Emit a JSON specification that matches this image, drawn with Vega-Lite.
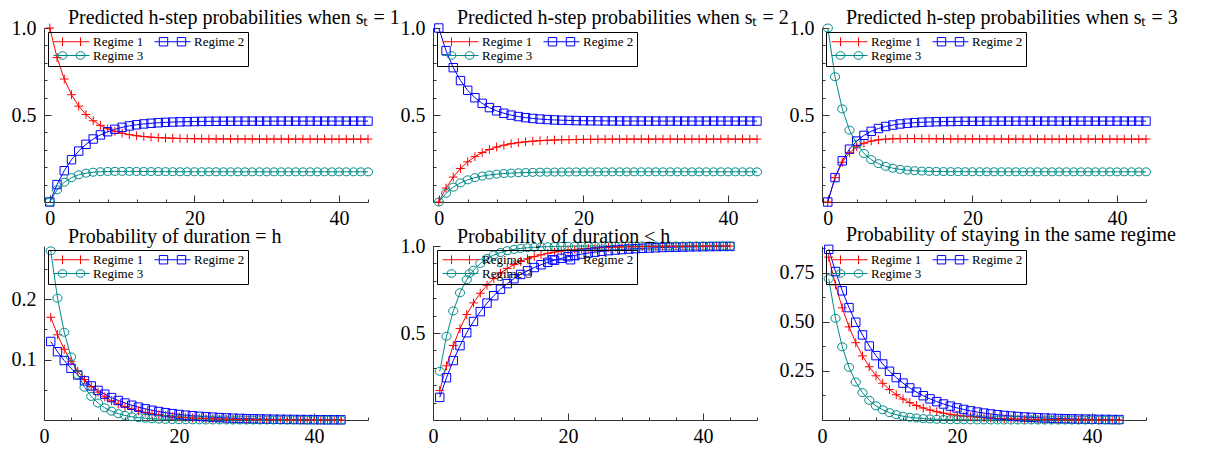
{
  "$schema": "https://vega.github.io/schema/vega-lite/v6.json",
  "padding": {"left": 11, "top": 8, "right": 0, "bottom": 0},
  "background": "white",
  "config": {
    "view": {"stroke": null},
    "font": "Liberation Serif",
    "axis": {"labelFont": "Liberation Serif", "labelFontSize": 20, "labelColor": "#000", "domainColor": "#333", "tickColor": "#333", "domainWidth": 1, "tickWidth": 1, "grid": false, "labelFlush": false},
    "title": {"font": "Liberation Serif", "fontSize": 20, "fontWeight": "normal", "color": "#000", "anchor": "start", "frame": "group", "dx": 24, "offset": -10},
    "legend": {"orient": "top-left", "direction": "horizontal", "offset": 4, "columns": 2, "padding": 3, "rowPadding": 0, "columnPadding": 8, "strokeColor": "#000", "labelFont": "Liberation Serif", "labelFontSize": 13, "labelColor": "#000", "symbolSize": 64, "symbolStrokeWidth": 1, "symbolFillColor": "transparent", "labelOffset": 29},
    "line": {"strokeWidth": 1},
    "point": {"filled": false, "strokeWidth": 1, "size": 64, "opacity": 1}
  },
  "datasets": {
    "s1": [
      {"h":0,"Regime 1":1,"Regime 2":0,"Regime 3":0},{"h":1,"Regime 1":0.83,"Regime 2":0.1,"Regime 3":0.07},{"h":2,"Regime 1":0.7067,"Regime 2":0.1798,"Regime 3":0.1135},{"h":3,"Regime 1":0.6168,"Regime 2":0.243,"Regime 3":0.1402},{"h":4,"Regime 1":0.551,"Regime 2":0.2927,"Regime 3":0.1563},{"h":5,"Regime 1":0.5027,"Regime 2":0.3316,"Regime 3":0.1657},{"h":6,"Regime 1":0.4669,"Regime 2":0.362,"Regime 3":0.1711},{"h":7,"Regime 1":0.4405,"Regime 2":0.3856,"Regime 3":0.174},{"h":8,"Regime 1":0.4208,"Regime 2":0.4039,"Regime 3":0.1754},{"h":9,"Regime 1":0.4061,"Regime 2":0.418,"Regime 3":0.1759},{"h":10,"Regime 1":0.3951,"Regime 2":0.4289,"Regime 3":0.176},{"h":11,"Regime 1":0.3869,"Regime 2":0.4373,"Regime 3":0.1758},{"h":12,"Regime 1":0.3807,"Regime 2":0.4437,"Regime 3":0.1755},{"h":13,"Regime 1":0.3761,"Regime 2":0.4487,"Regime 3":0.1752},{"h":14,"Regime 1":0.3726,"Regime 2":0.4525,"Regime 3":0.1749},{"h":15,"Regime 1":0.3699,"Regime 2":0.4554,"Regime 3":0.1747},{"h":16,"Regime 1":0.368,"Regime 2":0.4577,"Regime 3":0.1744},{"h":17,"Regime 1":0.3665,"Regime 2":0.4594,"Regime 3":0.1741},{"h":18,"Regime 1":0.3653,"Regime 2":0.4607,"Regime 3":0.174},{"h":19,"Regime 1":0.3644,"Regime 2":0.4617,"Regime 3":0.1738},{"h":20,"Regime 1":0.3638,"Regime 2":0.4625,"Regime 3":0.1737},{"h":21,"Regime 1":0.3633,"Regime 2":0.4631,"Regime 3":0.1737},{"h":22,"Regime 1":0.3629,"Regime 2":0.4635,"Regime 3":0.1736},{"h":23,"Regime 1":0.3626,"Regime 2":0.4639,"Regime 3":0.1736},{"h":24,"Regime 1":0.3624,"Regime 2":0.4641,"Regime 3":0.1735},{"h":25,"Regime 1":0.3622,"Regime 2":0.4643,"Regime 3":0.1735},{"h":26,"Regime 1":0.3621,"Regime 2":0.4645,"Regime 3":0.1735},{"h":27,"Regime 1":0.3619,"Regime 2":0.4646,"Regime 3":0.1735},{"h":28,"Regime 1":0.3619,"Regime 2":0.4647,"Regime 3":0.1734},{"h":29,"Regime 1":0.3618,"Regime 2":0.4647,"Regime 3":0.1734},{"h":30,"Regime 1":0.3618,"Regime 2":0.4648,"Regime 3":0.1734},{"h":31,"Regime 1":0.3617,"Regime 2":0.4648,"Regime 3":0.1734},{"h":32,"Regime 1":0.3617,"Regime 2":0.4649,"Regime 3":0.1734},{"h":33,"Regime 1":0.3617,"Regime 2":0.4649,"Regime 3":0.1734},{"h":34,"Regime 1":0.3616,"Regime 2":0.4649,"Regime 3":0.1734},{"h":35,"Regime 1":0.3616,"Regime 2":0.4649,"Regime 3":0.1734},{"h":36,"Regime 1":0.3616,"Regime 2":0.4649,"Regime 3":0.1734},{"h":37,"Regime 1":0.3616,"Regime 2":0.4649,"Regime 3":0.1734},{"h":38,"Regime 1":0.3616,"Regime 2":0.4649,"Regime 3":0.1734},{"h":39,"Regime 1":0.3616,"Regime 2":0.4649,"Regime 3":0.1734},{"h":40,"Regime 1":0.3616,"Regime 2":0.4649,"Regime 3":0.1734},{"h":41,"Regime 1":0.3616,"Regime 2":0.4649,"Regime 3":0.1734},{"h":42,"Regime 1":0.3616,"Regime 2":0.4649,"Regime 3":0.1734},{"h":43,"Regime 1":0.3616,"Regime 2":0.4649,"Regime 3":0.1734},{"h":44,"Regime 1":0.3616,"Regime 2":0.4649,"Regime 3":0.1734}
    ],
    "s2": [
      {"h":0,"Regime 1":0,"Regime 2":1,"Regime 3":0},{"h":1,"Regime 1":0.08,"Regime 2":0.87,"Regime 3":0.05},{"h":2,"Regime 1":0.143,"Regime 2":0.7719,"Regime 3":0.0851},{"h":3,"Regime 1":0.1924,"Regime 2":0.6978,"Regime 3":0.1099},{"h":4,"Regime 1":0.2309,"Regime 2":0.6417,"Regime 3":0.1275},{"h":5,"Regime 1":0.2608,"Regime 2":0.5992,"Regime 3":0.14},{"h":6,"Regime 1":0.284,"Regime 2":0.567,"Regime 3":0.149},{"h":7,"Regime 1":0.3019,"Regime 2":0.5425,"Regime 3":0.1555},{"h":8,"Regime 1":0.3158,"Regime 2":0.524,"Regime 3":0.1602},{"h":9,"Regime 1":0.3265,"Regime 2":0.5099,"Regime 3":0.1637},{"h":10,"Regime 1":0.3347,"Regime 2":0.4992,"Regime 3":0.1662},{"h":11,"Regime 1":0.341,"Regime 2":0.491,"Regime 3":0.168},{"h":12,"Regime 1":0.3458,"Regime 2":0.4848,"Regime 3":0.1694},{"h":13,"Regime 1":0.3495,"Regime 2":0.4801,"Regime 3":0.1704},{"h":14,"Regime 1":0.3524,"Regime 2":0.4765,"Regime 3":0.1712},{"h":15,"Regime 1":0.3546,"Regime 2":0.4737,"Regime 3":0.1717},{"h":16,"Regime 1":0.3562,"Regime 2":0.4716,"Regime 3":0.1721},{"h":17,"Regime 1":0.3575,"Regime 2":0.4701,"Regime 3":0.1724},{"h":18,"Regime 1":0.3585,"Regime 2":0.4688,"Regime 3":0.1727},{"h":19,"Regime 1":0.3592,"Regime 2":0.4679,"Regime 3":0.1729},{"h":20,"Regime 1":0.3598,"Regime 2":0.4672,"Regime 3":0.173},{"h":21,"Regime 1":0.3602,"Regime 2":0.4667,"Regime 3":0.1731},{"h":22,"Regime 1":0.3606,"Regime 2":0.4663,"Regime 3":0.1732},{"h":23,"Regime 1":0.3608,"Regime 2":0.466,"Regime 3":0.1732},{"h":24,"Regime 1":0.361,"Regime 2":0.4657,"Regime 3":0.1733},{"h":25,"Regime 1":0.3612,"Regime 2":0.4655,"Regime 3":0.1733},{"h":26,"Regime 1":0.3613,"Regime 2":0.4654,"Regime 3":0.1733},{"h":27,"Regime 1":0.3613,"Regime 2":0.4653,"Regime 3":0.1734},{"h":28,"Regime 1":0.3614,"Regime 2":0.4652,"Regime 3":0.1734},{"h":29,"Regime 1":0.3615,"Regime 2":0.4651,"Regime 3":0.1734},{"h":30,"Regime 1":0.3615,"Regime 2":0.4651,"Regime 3":0.1734},{"h":31,"Regime 1":0.3616,"Regime 2":0.465,"Regime 3":0.1734},{"h":32,"Regime 1":0.3616,"Regime 2":0.465,"Regime 3":0.1734},{"h":33,"Regime 1":0.3616,"Regime 2":0.465,"Regime 3":0.1734},{"h":34,"Regime 1":0.3616,"Regime 2":0.465,"Regime 3":0.1734},{"h":35,"Regime 1":0.3616,"Regime 2":0.465,"Regime 3":0.1734},{"h":36,"Regime 1":0.3616,"Regime 2":0.465,"Regime 3":0.1734},{"h":37,"Regime 1":0.3616,"Regime 2":0.465,"Regime 3":0.1734},{"h":38,"Regime 1":0.3616,"Regime 2":0.465,"Regime 3":0.1734},{"h":39,"Regime 1":0.3616,"Regime 2":0.465,"Regime 3":0.1734},{"h":40,"Regime 1":0.3616,"Regime 2":0.465,"Regime 3":0.1734},{"h":41,"Regime 1":0.3616,"Regime 2":0.465,"Regime 3":0.1734},{"h":42,"Regime 1":0.3616,"Regime 2":0.465,"Regime 3":0.1734},{"h":43,"Regime 1":0.3616,"Regime 2":0.465,"Regime 3":0.1734},{"h":44,"Regime 1":0.3616,"Regime 2":0.465,"Regime 3":0.1734}
    ],
    "s3": [
      {"h":0,"Regime 1":0,"Regime 2":0,"Regime 3":1},{"h":1,"Regime 1":0.14,"Regime 2":0.14,"Regime 3":0.72},{"h":2,"Regime 1":0.2282,"Regime 2":0.2366,"Regime 3":0.5352},{"h":3,"Regime 1":0.2833,"Regime 2":0.3036,"Regime 3":0.4132},{"h":4,"Regime 1":0.3172,"Regime 2":0.3503,"Regime 3":0.3325},{"h":5,"Regime 1":0.3379,"Regime 2":0.383,"Regime 3":0.2791},{"h":6,"Regime 1":0.3502,"Regime 2":0.4061,"Regime 3":0.2438},{"h":7,"Regime 1":0.3572,"Regime 2":0.4224,"Regime 3":0.2203},{"h":8,"Regime 1":0.3612,"Regime 2":0.4341,"Regime 3":0.2048},{"h":9,"Regime 1":0.3632,"Regime 2":0.4424,"Regime 3":0.1944},{"h":10,"Regime 1":0.364,"Regime 2":0.4485,"Regime 3":0.1875},{"h":11,"Regime 1":0.3643,"Regime 2":0.4528,"Regime 3":0.1829},{"h":12,"Regime 1":0.3642,"Regime 2":0.456,"Regime 3":0.1798},{"h":13,"Regime 1":0.3639,"Regime 2":0.4583,"Regime 3":0.1778},{"h":14,"Regime 1":0.3636,"Regime 2":0.46,"Regime 3":0.1764},{"h":15,"Regime 1":0.3633,"Regime 2":0.4613,"Regime 3":0.1755},{"h":16,"Regime 1":0.363,"Regime 2":0.4622,"Regime 3":0.1748},{"h":17,"Regime 1":0.3627,"Regime 2":0.4628,"Regime 3":0.1745},{"h":18,"Regime 1":0.3624,"Regime 2":0.4633,"Regime 3":0.1742},{"h":19,"Regime 1":0.3622,"Regime 2":0.4637,"Regime 3":0.174},{"h":20,"Regime 1":0.3621,"Regime 2":0.464,"Regime 3":0.1739},{"h":21,"Regime 1":0.362,"Regime 2":0.4642,"Regime 3":0.1738},{"h":22,"Regime 1":0.3619,"Regime 2":0.4644,"Regime 3":0.1737},{"h":23,"Regime 1":0.3618,"Regime 2":0.4645,"Regime 3":0.1736},{"h":24,"Regime 1":0.3618,"Regime 2":0.4646,"Regime 3":0.1736},{"h":25,"Regime 1":0.3617,"Regime 2":0.4647,"Regime 3":0.1735},{"h":26,"Regime 1":0.3617,"Regime 2":0.4648,"Regime 3":0.1735},{"h":27,"Regime 1":0.3617,"Regime 2":0.4648,"Regime 3":0.1735},{"h":28,"Regime 1":0.3616,"Regime 2":0.4649,"Regime 3":0.1734},{"h":29,"Regime 1":0.3616,"Regime 2":0.4649,"Regime 3":0.1734},{"h":30,"Regime 1":0.3616,"Regime 2":0.4649,"Regime 3":0.1734},{"h":31,"Regime 1":0.3616,"Regime 2":0.4649,"Regime 3":0.1734},{"h":32,"Regime 1":0.3616,"Regime 2":0.4649,"Regime 3":0.1734},{"h":33,"Regime 1":0.3616,"Regime 2":0.4649,"Regime 3":0.1734},{"h":34,"Regime 1":0.3616,"Regime 2":0.4649,"Regime 3":0.1734},{"h":35,"Regime 1":0.3616,"Regime 2":0.4649,"Regime 3":0.1734},{"h":36,"Regime 1":0.3616,"Regime 2":0.4649,"Regime 3":0.1734},{"h":37,"Regime 1":0.3616,"Regime 2":0.4649,"Regime 3":0.1734},{"h":38,"Regime 1":0.3616,"Regime 2":0.4649,"Regime 3":0.1734},{"h":39,"Regime 1":0.3616,"Regime 2":0.4649,"Regime 3":0.1734},{"h":40,"Regime 1":0.3616,"Regime 2":0.4649,"Regime 3":0.1734},{"h":41,"Regime 1":0.3616,"Regime 2":0.4649,"Regime 3":0.1734},{"h":42,"Regime 1":0.3616,"Regime 2":0.4649,"Regime 3":0.1734},{"h":43,"Regime 1":0.3616,"Regime 2":0.4649,"Regime 3":0.1734},{"h":44,"Regime 1":0.3616,"Regime 2":0.4649,"Regime 3":0.1734}
    ],
    "dur": [
      {"h":1,"Regime 1":0.17,"Regime 2":0.13,"Regime 3":0.28},{"h":2,"Regime 1":0.1411,"Regime 2":0.1131,"Regime 3":0.2016},{"h":3,"Regime 1":0.1171,"Regime 2":0.0984,"Regime 3":0.1452},{"h":4,"Regime 1":0.0972,"Regime 2":0.0856,"Regime 3":0.1045},{"h":5,"Regime 1":0.0807,"Regime 2":0.0745,"Regime 3":0.0752},{"h":6,"Regime 1":0.067,"Regime 2":0.0648,"Regime 3":0.0542},{"h":7,"Regime 1":0.0556,"Regime 2":0.0564,"Regime 3":0.039},{"h":8,"Regime 1":0.0461,"Regime 2":0.049,"Regime 3":0.0281},{"h":9,"Regime 1":0.0383,"Regime 2":0.0427,"Regime 3":0.0202},{"h":10,"Regime 1":0.0318,"Regime 2":0.0371,"Regime 3":0.0146},{"h":11,"Regime 1":0.0264,"Regime 2":0.0323,"Regime 3":0.0105},{"h":12,"Regime 1":0.0219,"Regime 2":0.0281,"Regime 3":0.0075},{"h":13,"Regime 1":0.0182,"Regime 2":0.0244,"Regime 3":0.0054},{"h":14,"Regime 1":0.0151,"Regime 2":0.0213,"Regime 3":0.0039},{"h":15,"Regime 1":0.0125,"Regime 2":0.0185,"Regime 3":0.0028},{"h":16,"Regime 1":0.0104,"Regime 2":0.0161,"Regime 3":0.002},{"h":17,"Regime 1":0.0086,"Regime 2":0.014,"Regime 3":0.0015},{"h":18,"Regime 1":0.0072,"Regime 2":0.0122,"Regime 3":0.0011},{"h":19,"Regime 1":0.0059,"Regime 2":0.0106,"Regime 3":0.0008},{"h":20,"Regime 1":0.0049,"Regime 2":0.0092,"Regime 3":0.0005},{"h":21,"Regime 1":0.0041,"Regime 2":0.008,"Regime 3":0.0004},{"h":22,"Regime 1":0.0034,"Regime 2":0.007,"Regime 3":0.0003},{"h":23,"Regime 1":0.0028,"Regime 2":0.0061,"Regime 3":0.0002},{"h":24,"Regime 1":0.0023,"Regime 2":0.0053,"Regime 3":0.0001},{"h":25,"Regime 1":0.0019,"Regime 2":0.0046,"Regime 3":0.0001},{"h":26,"Regime 1":0.0016,"Regime 2":0.004,"Regime 3":0.0001},{"h":27,"Regime 1":0.0013,"Regime 2":0.0035,"Regime 3":0.0001},{"h":28,"Regime 1":0.0011,"Regime 2":0.003,"Regime 3":0},{"h":29,"Regime 1":0.0009,"Regime 2":0.0026,"Regime 3":0},{"h":30,"Regime 1":0.0008,"Regime 2":0.0023,"Regime 3":0},{"h":31,"Regime 1":0.0006,"Regime 2":0.002,"Regime 3":0},{"h":32,"Regime 1":0.0005,"Regime 2":0.0017,"Regime 3":0},{"h":33,"Regime 1":0.0004,"Regime 2":0.0015,"Regime 3":0},{"h":34,"Regime 1":0.0004,"Regime 2":0.0013,"Regime 3":0},{"h":35,"Regime 1":0.0003,"Regime 2":0.0011,"Regime 3":0},{"h":36,"Regime 1":0.0003,"Regime 2":0.001,"Regime 3":0},{"h":37,"Regime 1":0.0002,"Regime 2":0.0009,"Regime 3":0},{"h":38,"Regime 1":0.0002,"Regime 2":0.0008,"Regime 3":0},{"h":39,"Regime 1":0.0001,"Regime 2":0.0007,"Regime 3":0},{"h":40,"Regime 1":0.0001,"Regime 2":0.0006,"Regime 3":0},{"h":41,"Regime 1":0.0001,"Regime 2":0.0005,"Regime 3":0},{"h":42,"Regime 1":0.0001,"Regime 2":0.0004,"Regime 3":0},{"h":43,"Regime 1":0.0001,"Regime 2":0.0004,"Regime 3":0},{"h":44,"Regime 1":0.0001,"Regime 2":0.0003,"Regime 3":0}
    ],
    "cdf": [
      {"h":1,"Regime 1":0.17,"Regime 2":0.13,"Regime 3":0.28},{"h":2,"Regime 1":0.3111,"Regime 2":0.2431,"Regime 3":0.4816},{"h":3,"Regime 1":0.4282,"Regime 2":0.3415,"Regime 3":0.6268},{"h":4,"Regime 1":0.5254,"Regime 2":0.4271,"Regime 3":0.7313},{"h":5,"Regime 1":0.6061,"Regime 2":0.5016,"Regime 3":0.8065},{"h":6,"Regime 1":0.6731,"Regime 2":0.5664,"Regime 3":0.8607},{"h":7,"Regime 1":0.7286,"Regime 2":0.6227,"Regime 3":0.8997},{"h":8,"Regime 1":0.7748,"Regime 2":0.6718,"Regime 3":0.9278},{"h":9,"Regime 1":0.8131,"Regime 2":0.7145,"Regime 3":0.948},{"h":10,"Regime 1":0.8448,"Regime 2":0.7516,"Regime 3":0.9626},{"h":11,"Regime 1":0.8712,"Regime 2":0.7839,"Regime 3":0.973},{"h":12,"Regime 1":0.8931,"Regime 2":0.812,"Regime 3":0.9806},{"h":13,"Regime 1":0.9113,"Regime 2":0.8364,"Regime 3":0.986},{"h":14,"Regime 1":0.9264,"Regime 2":0.8577,"Regime 3":0.9899},{"h":15,"Regime 1":0.9389,"Regime 2":0.8762,"Regime 3":0.9928},{"h":16,"Regime 1":0.9493,"Regime 2":0.8923,"Regime 3":0.9948},{"h":17,"Regime 1":0.9579,"Regime 2":0.9063,"Regime 3":0.9962},{"h":18,"Regime 1":0.9651,"Regime 2":0.9185,"Regime 3":0.9973},{"h":19,"Regime 1":0.971,"Regime 2":0.9291,"Regime 3":0.9981},{"h":20,"Regime 1":0.9759,"Regime 2":0.9383,"Regime 3":0.9986},{"h":21,"Regime 1":0.98,"Regime 2":0.9463,"Regime 3":0.999},{"h":22,"Regime 1":0.9834,"Regime 2":0.9533,"Regime 3":0.9993},{"h":23,"Regime 1":0.9862,"Regime 2":0.9594,"Regime 3":0.9995},{"h":24,"Regime 1":0.9886,"Regime 2":0.9646,"Regime 3":0.9996},{"h":25,"Regime 1":0.9905,"Regime 2":0.9692,"Regime 3":0.9997},{"h":26,"Regime 1":0.9921,"Regime 2":0.9732,"Regime 3":0.9998},{"h":27,"Regime 1":0.9935,"Regime 2":0.9767,"Regime 3":0.9999},{"h":28,"Regime 1":0.9946,"Regime 2":0.9797,"Regime 3":0.9999},{"h":29,"Regime 1":0.9955,"Regime 2":0.9824,"Regime 3":0.9999},{"h":30,"Regime 1":0.9963,"Regime 2":0.9847,"Regime 3":0.9999},{"h":31,"Regime 1":0.9969,"Regime 2":0.9867,"Regime 3":1},{"h":32,"Regime 1":0.9974,"Regime 2":0.9884,"Regime 3":1},{"h":33,"Regime 1":0.9979,"Regime 2":0.9899,"Regime 3":1},{"h":34,"Regime 1":0.9982,"Regime 2":0.9912,"Regime 3":1},{"h":35,"Regime 1":0.9985,"Regime 2":0.9924,"Regime 3":1},{"h":36,"Regime 1":0.9988,"Regime 2":0.9934,"Regime 3":1},{"h":37,"Regime 1":0.999,"Regime 2":0.9942,"Regime 3":1},{"h":38,"Regime 1":0.9992,"Regime 2":0.995,"Regime 3":1},{"h":39,"Regime 1":0.9993,"Regime 2":0.9956,"Regime 3":1},{"h":40,"Regime 1":0.9994,"Regime 2":0.9962,"Regime 3":1},{"h":41,"Regime 1":0.9995,"Regime 2":0.9967,"Regime 3":1},{"h":42,"Regime 1":0.9996,"Regime 2":0.9971,"Regime 3":1},{"h":43,"Regime 1":0.9997,"Regime 2":0.9975,"Regime 3":1},{"h":44,"Regime 1":0.9997,"Regime 2":0.9978,"Regime 3":1}
    ],
    "stay": [
      {"h":1,"Regime 1":0.83,"Regime 2":0.87,"Regime 3":0.72},{"h":2,"Regime 1":0.6889,"Regime 2":0.7569,"Regime 3":0.5184},{"h":3,"Regime 1":0.5718,"Regime 2":0.6585,"Regime 3":0.3732},{"h":4,"Regime 1":0.4746,"Regime 2":0.5729,"Regime 3":0.2687},{"h":5,"Regime 1":0.3939,"Regime 2":0.4984,"Regime 3":0.1935},{"h":6,"Regime 1":0.3269,"Regime 2":0.4336,"Regime 3":0.1393},{"h":7,"Regime 1":0.2714,"Regime 2":0.3773,"Regime 3":0.1003},{"h":8,"Regime 1":0.2252,"Regime 2":0.3282,"Regime 3":0.0722},{"h":9,"Regime 1":0.1869,"Regime 2":0.2855,"Regime 3":0.052},{"h":10,"Regime 1":0.1552,"Regime 2":0.2484,"Regime 3":0.0374},{"h":11,"Regime 1":0.1288,"Regime 2":0.2161,"Regime 3":0.027},{"h":12,"Regime 1":0.1069,"Regime 2":0.188,"Regime 3":0.0194},{"h":13,"Regime 1":0.0887,"Regime 2":0.1636,"Regime 3":0.014},{"h":14,"Regime 1":0.0736,"Regime 2":0.1423,"Regime 3":0.0101},{"h":15,"Regime 1":0.0611,"Regime 2":0.1238,"Regime 3":0.0072},{"h":16,"Regime 1":0.0507,"Regime 2":0.1077,"Regime 3":0.0052},{"h":17,"Regime 1":0.0421,"Regime 2":0.0937,"Regime 3":0.0038},{"h":18,"Regime 1":0.0349,"Regime 2":0.0815,"Regime 3":0.0027},{"h":19,"Regime 1":0.029,"Regime 2":0.0709,"Regime 3":0.0019},{"h":20,"Regime 1":0.0241,"Regime 2":0.0617,"Regime 3":0.0014},{"h":21,"Regime 1":0.02,"Regime 2":0.0537,"Regime 3":0.001},{"h":22,"Regime 1":0.0166,"Regime 2":0.0467,"Regime 3":0.0007},{"h":23,"Regime 1":0.0138,"Regime 2":0.0406,"Regime 3":0.0005},{"h":24,"Regime 1":0.0114,"Regime 2":0.0354,"Regime 3":0.0004},{"h":25,"Regime 1":0.0095,"Regime 2":0.0308,"Regime 3":0.0003},{"h":26,"Regime 1":0.0079,"Regime 2":0.0268,"Regime 3":0.0002},{"h":27,"Regime 1":0.0065,"Regime 2":0.0233,"Regime 3":0.0001},{"h":28,"Regime 1":0.0054,"Regime 2":0.0203,"Regime 3":0.0001},{"h":29,"Regime 1":0.0045,"Regime 2":0.0176,"Regime 3":0.0001},{"h":30,"Regime 1":0.0037,"Regime 2":0.0153,"Regime 3":0.0001},{"h":31,"Regime 1":0.0031,"Regime 2":0.0133,"Regime 3":0},{"h":32,"Regime 1":0.0026,"Regime 2":0.0116,"Regime 3":0},{"h":33,"Regime 1":0.0021,"Regime 2":0.0101,"Regime 3":0},{"h":34,"Regime 1":0.0018,"Regime 2":0.0088,"Regime 3":0},{"h":35,"Regime 1":0.0015,"Regime 2":0.0076,"Regime 3":0},{"h":36,"Regime 1":0.0012,"Regime 2":0.0066,"Regime 3":0},{"h":37,"Regime 1":0.001,"Regime 2":0.0058,"Regime 3":0},{"h":38,"Regime 1":0.0008,"Regime 2":0.005,"Regime 3":0},{"h":39,"Regime 1":0.0007,"Regime 2":0.0044,"Regime 3":0},{"h":40,"Regime 1":0.0006,"Regime 2":0.0038,"Regime 3":0},{"h":41,"Regime 1":0.0005,"Regime 2":0.0033,"Regime 3":0},{"h":42,"Regime 1":0.0004,"Regime 2":0.0029,"Regime 3":0},{"h":43,"Regime 1":0.0003,"Regime 2":0.0025,"Regime 3":0},{"h":44,"Regime 1":0.0003,"Regime 2":0.0022,"Regime 3":0}
    ]
  },
  "columns": 3,
  "bounds": "flush",
  "spacing": {"row": 44, "column": 65},
  "resolve": {"scale": {"color": "independent", "shape": "independent"}, "legend": {"color": "independent", "shape": "independent"}},
  "concat": [
    {
      "title": {"text": "Predicted h-step probabilities when sₜ = 1"},
      "width": 324, "height": 174,
      "data": {"name": "s1"},
      "transform": [{"fold": ["Regime 1", "Regime 2", "Regime 3"], "as": ["regime", "p"]}],
      "resolve": {"axis": {"x": "independent", "y": "independent"}},
      "layer": [
        {"mark": "line", "encoding": {
          "x": {"field": "h", "type": "quantitative", "scale": {"domain": [-0.8, 44], "nice": false, "zero": false}, "axis": {"orient": "bottom", "values": [0, 20, 40], "tickSize": -7, "labelPadding": 13, "format": "d", "title": null}},
          "y": {"field": "p", "type": "quantitative", "scale": {"domain": [0, 1], "nice": false}, "axis": {"orient": "left", "values": [0.5, 1], "tickSize": -7, "labelPadding": 15, "format": ".1f", "title": null}},
          "color": {"field": "regime", "type": "nominal", "scale": {"domain": ["Regime 1", "Regime 2", "Regime 3"], "range": ["#ff0000", "#0000ff", "#008b8b"]}, "legend": {"title": null, "symbolType": {"expr": "datum.value == 'Regime 1' ? 'M-1,0H8M1.25,-1.1V1.1M5.75,-1.1V1.1' : datum.value == 'Regime 2' ? 'M-1,0H8M0.2,-1.05H2.3V1.05H0.2ZM4.7,-1.05H6.8V1.05H4.7Z' : 'M-1,0H8M2.35,0A1.1,0.95,0,1,1,0.15,0A1.1,0.95,0,1,1,2.35,0ZM6.85,0A1.1,0.95,0,1,1,4.65,0A1.1,0.95,0,1,1,6.85,0Z'"}}}}},
        {"mark": "point", "encoding": {
          "x": {"field": "h", "type": "quantitative", "scale": {"domain": [-0.8, 44], "nice": false, "zero": false}, "axis": {"orient": "bottom", "values": [0, 4, 8, 12, 16, 20, 24, 28, 32, 36, 40, 44], "tickSize": -3, "labels": false, "domain": false, "title": null}},
          "y": {"field": "p", "type": "quantitative", "scale": {"domain": [0, 1], "nice": false}, "axis": {"orient": "left", "values": [0.1, 0.2, 0.3, 0.4, 0.5, 0.6, 0.7, 0.8, 0.9, 1], "tickSize": -3, "labels": false, "domain": false, "title": null}},
          "color": {"field": "regime", "type": "nominal", "scale": {"domain": ["Regime 1", "Regime 2", "Regime 3"], "range": ["#ff0000", "#0000ff", "#008b8b"]}, "legend": {"title": null, "symbolType": {"expr": "datum.value == 'Regime 1' ? 'M-1,0H8M1.25,-1.1V1.1M5.75,-1.1V1.1' : datum.value == 'Regime 2' ? 'M-1,0H8M0.2,-1.05H2.3V1.05H0.2ZM4.7,-1.05H6.8V1.05H4.7Z' : 'M-1,0H8M2.35,0A1.1,0.95,0,1,1,0.15,0A1.1,0.95,0,1,1,2.35,0ZM6.85,0A1.1,0.95,0,1,1,4.65,0A1.1,0.95,0,1,1,6.85,0Z'"}}},
          "shape": {"field": "regime", "type": "nominal", "scale": {"domain": ["Regime 3", "Regime 2", "Regime 1"], "range": ["M1.15,0A1.15,1,0,1,1,-1.15,0A1.15,1,0,1,1,1.15,0Z", "M-1.05,-1.05H1.05V1.05H-1.05Z", "M-1.1,0H1.1M0,-1.1V1.1"]}, "legend": null}}}
      ]
    },
    {
      "title": {"text": "Predicted h-step probabilities when sₜ = 2"},
      "width": 324, "height": 174,
      "data": {"name": "s2"},
      "transform": [{"fold": ["Regime 1", "Regime 2", "Regime 3"], "as": ["regime", "p"]}],
      "resolve": {"axis": {"x": "independent", "y": "independent"}},
      "layer": [
        {"mark": "line", "encoding": {
          "x": {"field": "h", "type": "quantitative", "scale": {"domain": [-0.8, 44], "nice": false, "zero": false}, "axis": {"orient": "bottom", "values": [0, 20, 40], "tickSize": -7, "labelPadding": 13, "format": "d", "title": null}},
          "y": {"field": "p", "type": "quantitative", "scale": {"domain": [0, 1], "nice": false}, "axis": {"orient": "left", "values": [0.5, 1], "tickSize": -7, "labelPadding": 15, "format": ".1f", "title": null}},
          "color": {"field": "regime", "type": "nominal", "scale": {"domain": ["Regime 1", "Regime 2", "Regime 3"], "range": ["#ff0000", "#0000ff", "#008b8b"]}, "legend": {"title": null, "symbolType": {"expr": "datum.value == 'Regime 1' ? 'M-1,0H8M1.25,-1.1V1.1M5.75,-1.1V1.1' : datum.value == 'Regime 2' ? 'M-1,0H8M0.2,-1.05H2.3V1.05H0.2ZM4.7,-1.05H6.8V1.05H4.7Z' : 'M-1,0H8M2.35,0A1.1,0.95,0,1,1,0.15,0A1.1,0.95,0,1,1,2.35,0ZM6.85,0A1.1,0.95,0,1,1,4.65,0A1.1,0.95,0,1,1,6.85,0Z'"}}}}},
        {"mark": "point", "encoding": {
          "x": {"field": "h", "type": "quantitative", "scale": {"domain": [-0.8, 44], "nice": false, "zero": false}, "axis": {"orient": "bottom", "values": [0, 4, 8, 12, 16, 20, 24, 28, 32, 36, 40, 44], "tickSize": -3, "labels": false, "domain": false, "title": null}},
          "y": {"field": "p", "type": "quantitative", "scale": {"domain": [0, 1], "nice": false}, "axis": {"orient": "left", "values": [0.1, 0.2, 0.3, 0.4, 0.5, 0.6, 0.7, 0.8, 0.9, 1], "tickSize": -3, "labels": false, "domain": false, "title": null}},
          "color": {"field": "regime", "type": "nominal", "scale": {"domain": ["Regime 1", "Regime 2", "Regime 3"], "range": ["#ff0000", "#0000ff", "#008b8b"]}, "legend": {"title": null, "symbolType": {"expr": "datum.value == 'Regime 1' ? 'M-1,0H8M1.25,-1.1V1.1M5.75,-1.1V1.1' : datum.value == 'Regime 2' ? 'M-1,0H8M0.2,-1.05H2.3V1.05H0.2ZM4.7,-1.05H6.8V1.05H4.7Z' : 'M-1,0H8M2.35,0A1.1,0.95,0,1,1,0.15,0A1.1,0.95,0,1,1,2.35,0ZM6.85,0A1.1,0.95,0,1,1,4.65,0A1.1,0.95,0,1,1,6.85,0Z'"}}},
          "shape": {"field": "regime", "type": "nominal", "scale": {"domain": ["Regime 3", "Regime 2", "Regime 1"], "range": ["M1.15,0A1.15,1,0,1,1,-1.15,0A1.15,1,0,1,1,1.15,0Z", "M-1.05,-1.05H1.05V1.05H-1.05Z", "M-1.1,0H1.1M0,-1.1V1.1"]}, "legend": null}}}
      ]
    },
    {
      "title": {"text": "Predicted h-step probabilities when sₜ = 3"},
      "width": 324, "height": 174,
      "data": {"name": "s3"},
      "transform": [{"fold": ["Regime 1", "Regime 2", "Regime 3"], "as": ["regime", "p"]}],
      "resolve": {"axis": {"x": "independent", "y": "independent"}},
      "layer": [
        {"mark": "line", "encoding": {
          "x": {"field": "h", "type": "quantitative", "scale": {"domain": [-0.8, 44], "nice": false, "zero": false}, "axis": {"orient": "bottom", "values": [0, 20, 40], "tickSize": -7, "labelPadding": 13, "format": "d", "title": null}},
          "y": {"field": "p", "type": "quantitative", "scale": {"domain": [0, 1], "nice": false}, "axis": {"orient": "left", "values": [0.5, 1], "tickSize": -7, "labelPadding": 15, "format": ".1f", "title": null}},
          "color": {"field": "regime", "type": "nominal", "scale": {"domain": ["Regime 1", "Regime 2", "Regime 3"], "range": ["#ff0000", "#0000ff", "#008b8b"]}, "legend": {"title": null, "symbolType": {"expr": "datum.value == 'Regime 1' ? 'M-1,0H8M1.25,-1.1V1.1M5.75,-1.1V1.1' : datum.value == 'Regime 2' ? 'M-1,0H8M0.2,-1.05H2.3V1.05H0.2ZM4.7,-1.05H6.8V1.05H4.7Z' : 'M-1,0H8M2.35,0A1.1,0.95,0,1,1,0.15,0A1.1,0.95,0,1,1,2.35,0ZM6.85,0A1.1,0.95,0,1,1,4.65,0A1.1,0.95,0,1,1,6.85,0Z'"}}}}},
        {"mark": "point", "encoding": {
          "x": {"field": "h", "type": "quantitative", "scale": {"domain": [-0.8, 44], "nice": false, "zero": false}, "axis": {"orient": "bottom", "values": [0, 4, 8, 12, 16, 20, 24, 28, 32, 36, 40, 44], "tickSize": -3, "labels": false, "domain": false, "title": null}},
          "y": {"field": "p", "type": "quantitative", "scale": {"domain": [0, 1], "nice": false}, "axis": {"orient": "left", "values": [0.1, 0.2, 0.3, 0.4, 0.5, 0.6, 0.7, 0.8, 0.9, 1], "tickSize": -3, "labels": false, "domain": false, "title": null}},
          "color": {"field": "regime", "type": "nominal", "scale": {"domain": ["Regime 1", "Regime 2", "Regime 3"], "range": ["#ff0000", "#0000ff", "#008b8b"]}, "legend": {"title": null, "symbolType": {"expr": "datum.value == 'Regime 1' ? 'M-1,0H8M1.25,-1.1V1.1M5.75,-1.1V1.1' : datum.value == 'Regime 2' ? 'M-1,0H8M0.2,-1.05H2.3V1.05H0.2ZM4.7,-1.05H6.8V1.05H4.7Z' : 'M-1,0H8M2.35,0A1.1,0.95,0,1,1,0.15,0A1.1,0.95,0,1,1,2.35,0ZM6.85,0A1.1,0.95,0,1,1,4.65,0A1.1,0.95,0,1,1,6.85,0Z'"}}},
          "shape": {"field": "regime", "type": "nominal", "scale": {"domain": ["Regime 3", "Regime 2", "Regime 1"], "range": ["M1.15,0A1.15,1,0,1,1,-1.15,0A1.15,1,0,1,1,1.15,0Z", "M-1.05,-1.05H1.05V1.05H-1.05Z", "M-1.1,0H1.1M0,-1.1V1.1"]}, "legend": null}}}
      ]
    },
    {
      "title": {"text": "Probability of duration = h", "offset": -2},
      "width": 324, "height": 174,
      "data": {"name": "dur"},
      "transform": [{"fold": ["Regime 1", "Regime 2", "Regime 3"], "as": ["regime", "p"]}],
      "resolve": {"axis": {"x": "independent", "y": "independent"}},
      "layer": [
        {"mark": "line", "encoding": {
          "x": {"field": "h", "type": "quantitative", "scale": {"domain": [0, 48], "nice": false, "zero": false}, "axis": {"orient": "bottom", "values": [0, 20, 40], "tickSize": -7, "labelPadding": 13, "format": "d", "title": null}},
          "y": {"field": "p", "type": "quantitative", "scale": {"domain": [0, 0.288], "nice": false}, "axis": {"orient": "left", "values": [0.1, 0.2], "tickSize": -7, "labelPadding": 15, "format": ".1f", "title": null}},
          "color": {"field": "regime", "type": "nominal", "scale": {"domain": ["Regime 1", "Regime 2", "Regime 3"], "range": ["#ff0000", "#0000ff", "#008b8b"]}, "legend": {"title": null, "symbolType": {"expr": "datum.value == 'Regime 1' ? 'M-1,0H8M1.25,-1.1V1.1M5.75,-1.1V1.1' : datum.value == 'Regime 2' ? 'M-1,0H8M0.2,-1.05H2.3V1.05H0.2ZM4.7,-1.05H6.8V1.05H4.7Z' : 'M-1,0H8M2.35,0A1.1,0.95,0,1,1,0.15,0A1.1,0.95,0,1,1,2.35,0ZM6.85,0A1.1,0.95,0,1,1,4.65,0A1.1,0.95,0,1,1,6.85,0Z'"}}}}},
        {"mark": "point", "encoding": {
          "x": {"field": "h", "type": "quantitative", "scale": {"domain": [0, 48], "nice": false, "zero": false}, "axis": {"orient": "bottom", "values": [4, 8, 12, 16, 20, 24, 28, 32, 36, 40, 44, 48], "tickSize": -3, "labels": false, "domain": false, "title": null}},
          "y": {"field": "p", "type": "quantitative", "scale": {"domain": [0, 0.288], "nice": false}, "axis": {"orient": "left", "values": [0.05, 0.1, 0.15, 0.2, 0.25], "tickSize": -3, "labels": false, "domain": false, "title": null}},
          "color": {"field": "regime", "type": "nominal", "scale": {"domain": ["Regime 1", "Regime 2", "Regime 3"], "range": ["#ff0000", "#0000ff", "#008b8b"]}, "legend": {"title": null, "symbolType": {"expr": "datum.value == 'Regime 1' ? 'M-1,0H8M1.25,-1.1V1.1M5.75,-1.1V1.1' : datum.value == 'Regime 2' ? 'M-1,0H8M0.2,-1.05H2.3V1.05H0.2ZM4.7,-1.05H6.8V1.05H4.7Z' : 'M-1,0H8M2.35,0A1.1,0.95,0,1,1,0.15,0A1.1,0.95,0,1,1,2.35,0ZM6.85,0A1.1,0.95,0,1,1,4.65,0A1.1,0.95,0,1,1,6.85,0Z'"}}},
          "shape": {"field": "regime", "type": "nominal", "scale": {"domain": ["Regime 3", "Regime 2", "Regime 1"], "range": ["M1.15,0A1.15,1,0,1,1,-1.15,0A1.15,1,0,1,1,1.15,0Z", "M-1.05,-1.05H1.05V1.05H-1.05Z", "M-1.1,0H1.1M0,-1.1V1.1"]}, "legend": null}}}
      ]
    },
    {
      "title": {"text": "Probability of duration ≤ h", "offset": -11},
      "width": 324, "height": 174,
      "data": {"name": "cdf"},
      "transform": [{"fold": ["Regime 1", "Regime 2", "Regime 3"], "as": ["regime", "p"]}],
      "resolve": {"axis": {"x": "independent", "y": "independent"}},
      "layer": [
        {"mark": "line", "encoding": {
          "x": {"field": "h", "type": "quantitative", "scale": {"domain": [0, 48], "nice": false, "zero": false}, "axis": {"orient": "bottom", "values": [0, 20, 40], "tickSize": -7, "labelPadding": 13, "format": "d", "title": null}},
          "y": {"field": "p", "type": "quantitative", "scale": {"domain": [0, 1], "nice": false}, "axis": {"orient": "left", "values": [0.5, 1], "tickSize": -7, "labelPadding": 15, "format": ".1f", "title": null}},
          "color": {"field": "regime", "type": "nominal", "scale": {"domain": ["Regime 1", "Regime 2", "Regime 3"], "range": ["#ff0000", "#0000ff", "#008b8b"]}, "legend": {"title": null, "symbolType": {"expr": "datum.value == 'Regime 1' ? 'M-1,0H8M1.25,-1.1V1.1M5.75,-1.1V1.1' : datum.value == 'Regime 2' ? 'M-1,0H8M0.2,-1.05H2.3V1.05H0.2ZM4.7,-1.05H6.8V1.05H4.7Z' : 'M-1,0H8M2.35,0A1.1,0.95,0,1,1,0.15,0A1.1,0.95,0,1,1,2.35,0ZM6.85,0A1.1,0.95,0,1,1,4.65,0A1.1,0.95,0,1,1,6.85,0Z'"}}}}},
        {"mark": "point", "encoding": {
          "x": {"field": "h", "type": "quantitative", "scale": {"domain": [0, 48], "nice": false, "zero": false}, "axis": {"orient": "bottom", "values": [4, 8, 12, 16, 20, 24, 28, 32, 36, 40, 44, 48], "tickSize": -3, "labels": false, "domain": false, "title": null}},
          "y": {"field": "p", "type": "quantitative", "scale": {"domain": [0, 1], "nice": false}, "axis": {"orient": "left", "values": [0.1, 0.2, 0.3, 0.4, 0.5, 0.6, 0.7, 0.8, 0.9, 1], "tickSize": -3, "labels": false, "domain": false, "title": null}},
          "color": {"field": "regime", "type": "nominal", "scale": {"domain": ["Regime 1", "Regime 2", "Regime 3"], "range": ["#ff0000", "#0000ff", "#008b8b"]}, "legend": {"title": null, "symbolType": {"expr": "datum.value == 'Regime 1' ? 'M-1,0H8M1.25,-1.1V1.1M5.75,-1.1V1.1' : datum.value == 'Regime 2' ? 'M-1,0H8M0.2,-1.05H2.3V1.05H0.2ZM4.7,-1.05H6.8V1.05H4.7Z' : 'M-1,0H8M2.35,0A1.1,0.95,0,1,1,0.15,0A1.1,0.95,0,1,1,2.35,0ZM6.85,0A1.1,0.95,0,1,1,4.65,0A1.1,0.95,0,1,1,6.85,0Z'"}}},
          "shape": {"field": "regime", "type": "nominal", "scale": {"domain": ["Regime 3", "Regime 2", "Regime 1"], "range": ["M1.15,0A1.15,1,0,1,1,-1.15,0A1.15,1,0,1,1,1.15,0Z", "M-1.05,-1.05H1.05V1.05H-1.05Z", "M-1.1,0H1.1M0,-1.1V1.1"]}, "legend": null}}}
      ]
    },
    {
      "title": {"text": "Probability of staying in the same regime", "offset": -2},
      "width": 324, "height": 174,
      "data": {"name": "stay"},
      "transform": [{"fold": ["Regime 1", "Regime 2", "Regime 3"], "as": ["regime", "p"]}],
      "resolve": {"axis": {"x": "independent", "y": "independent"}},
      "layer": [
        {"mark": "line", "encoding": {
          "x": {"field": "h", "type": "quantitative", "scale": {"domain": [0, 48], "nice": false, "zero": false}, "axis": {"orient": "bottom", "values": [0, 20, 40], "tickSize": -7, "labelPadding": 13, "format": "d", "title": null}},
          "y": {"field": "p", "type": "quantitative", "scale": {"domain": [0, 0.887], "nice": false}, "axis": {"orient": "left", "values": [0.25, 0.5, 0.75], "tickSize": -7, "labelPadding": 15, "format": ".2f", "title": null}},
          "color": {"field": "regime", "type": "nominal", "scale": {"domain": ["Regime 1", "Regime 2", "Regime 3"], "range": ["#ff0000", "#0000ff", "#008b8b"]}, "legend": {"title": null, "symbolType": {"expr": "datum.value == 'Regime 1' ? 'M-1,0H8M1.25,-1.1V1.1M5.75,-1.1V1.1' : datum.value == 'Regime 2' ? 'M-1,0H8M0.2,-1.05H2.3V1.05H0.2ZM4.7,-1.05H6.8V1.05H4.7Z' : 'M-1,0H8M2.35,0A1.1,0.95,0,1,1,0.15,0A1.1,0.95,0,1,1,2.35,0ZM6.85,0A1.1,0.95,0,1,1,4.65,0A1.1,0.95,0,1,1,6.85,0Z'"}}}}},
        {"mark": "point", "encoding": {
          "x": {"field": "h", "type": "quantitative", "scale": {"domain": [0, 48], "nice": false, "zero": false}, "axis": {"orient": "bottom", "values": [4, 8, 12, 16, 20, 24, 28, 32, 36, 40, 44, 48], "tickSize": -3, "labels": false, "domain": false, "title": null}},
          "y": {"field": "p", "type": "quantitative", "scale": {"domain": [0, 0.887], "nice": false}, "axis": {"orient": "left", "values": [0.125, 0.25, 0.375, 0.5, 0.625, 0.75, 0.875], "tickSize": -3, "labels": false, "domain": false, "title": null}},
          "color": {"field": "regime", "type": "nominal", "scale": {"domain": ["Regime 1", "Regime 2", "Regime 3"], "range": ["#ff0000", "#0000ff", "#008b8b"]}, "legend": {"title": null, "symbolType": {"expr": "datum.value == 'Regime 1' ? 'M-1,0H8M1.25,-1.1V1.1M5.75,-1.1V1.1' : datum.value == 'Regime 2' ? 'M-1,0H8M0.2,-1.05H2.3V1.05H0.2ZM4.7,-1.05H6.8V1.05H4.7Z' : 'M-1,0H8M2.35,0A1.1,0.95,0,1,1,0.15,0A1.1,0.95,0,1,1,2.35,0ZM6.85,0A1.1,0.95,0,1,1,4.65,0A1.1,0.95,0,1,1,6.85,0Z'"}}},
          "shape": {"field": "regime", "type": "nominal", "scale": {"domain": ["Regime 3", "Regime 2", "Regime 1"], "range": ["M1.15,0A1.15,1,0,1,1,-1.15,0A1.15,1,0,1,1,1.15,0Z", "M-1.05,-1.05H1.05V1.05H-1.05Z", "M-1.1,0H1.1M0,-1.1V1.1"]}, "legend": null}}}
      ]
    }
  ]
}
